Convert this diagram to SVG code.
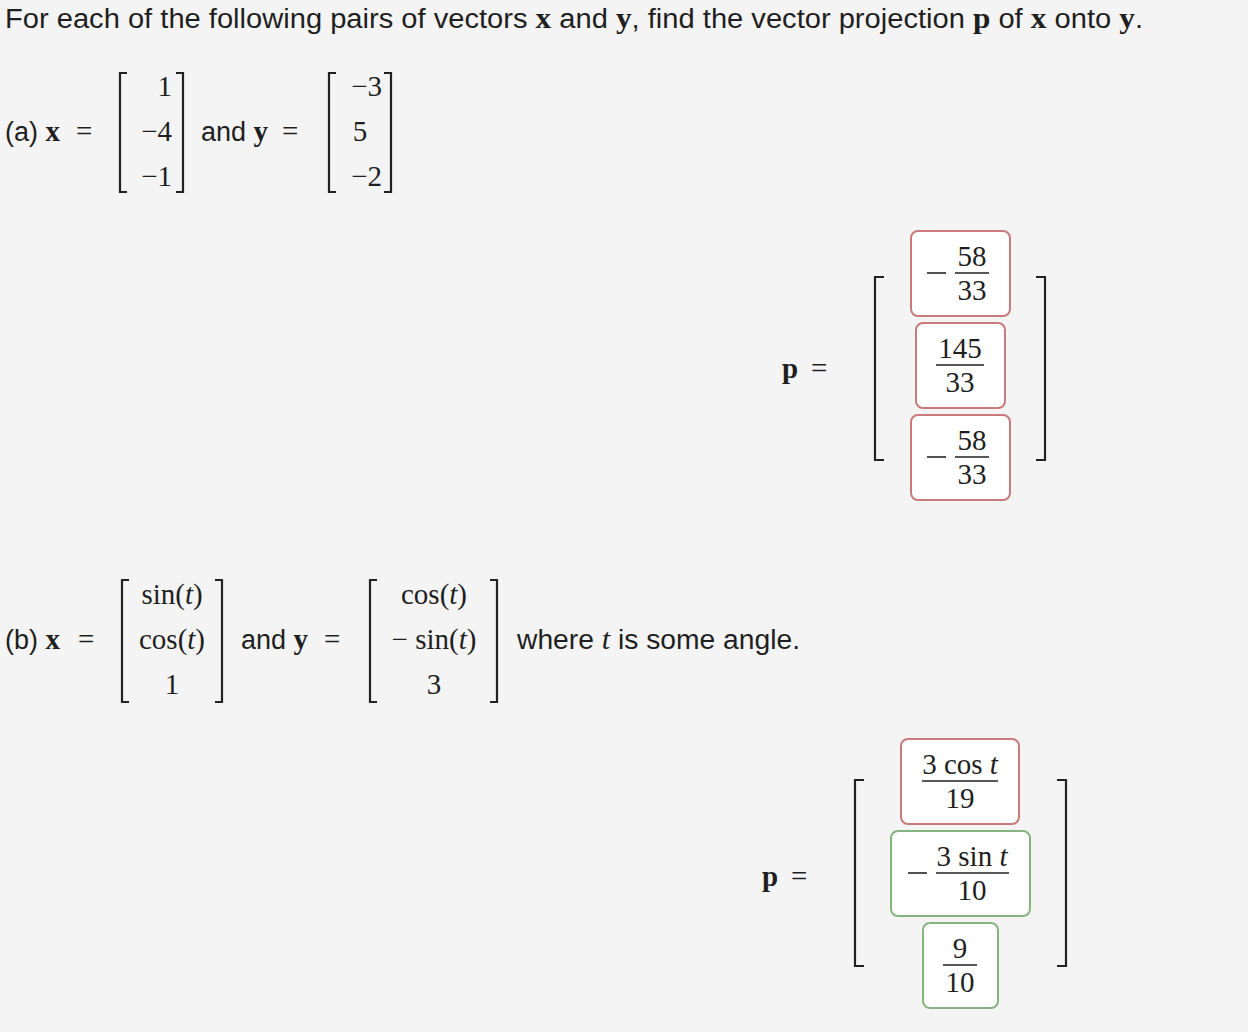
<svg xmlns="http://www.w3.org/2000/svg" width="1248" height="1032" viewBox="0 0 1248 1032">
<style>
.s{font-family:"Liberation Sans",Arial,sans-serif;font-size:27px;fill:#1f1f1f}
.m{font-family:"Liberation Serif","Times New Roman",serif;font-size:29px;fill:#1f1f1f}
.b{font-weight:bold}
.i{font-style:italic}
.br{fill:none;stroke:#222;stroke-width:2.2}
.fl{stroke:#222;stroke-width:1.6}
.red{fill:#fff;stroke:#c97a7a;stroke-width:2}
.grn{fill:#fff;stroke:#86b47e;stroke-width:2}
</style>
<rect width="1248" height="1032" fill="#f4f4f4"/>
<text class="s" x="5" y="28" textLength="1138" lengthAdjust="spacingAndGlyphs">For each of the following pairs of vectors <tspan class="m b">x</tspan> and <tspan class="m b">y</tspan>, find the vector projection <tspan class="m b">p</tspan> of <tspan class="m b">x</tspan> onto <tspan class="m b">y</tspan>.</text>

<g id="part-a">
<text class="s" x="5" y="141">(a) <tspan class="m b">x</tspan></text>
<text class="m" x="76" y="141">=</text>
<path class="br" d="M127,73 H120 V192 H127 M176,73 H183 V192 H176"/>
<text class="m" text-anchor="end" x="172" y="96">1</text>
<text class="m" text-anchor="end" x="172" y="141">−4</text>
<text class="m" text-anchor="end" x="172" y="186">−1</text>
<text class="s" x="201" y="141">and <tspan class="m b">y</tspan></text>
<text class="m" x="282" y="141">=</text>
<path class="br" d="M336,73 H329 V192 H336 M384,73 H391 V192 H384"/>
<text class="m" text-anchor="end" x="382" y="96">−3</text>
<text class="m" text-anchor="middle" x="360" y="141">5</text>
<text class="m" text-anchor="end" x="382" y="186">−2</text>
</g>

<g id="answer-a">
<text class="m" x="782" y="378"><tspan class="b">p</tspan></text>
<text class="m" x="811" y="378">=</text>
<path class="br" d="M884,277 H875 V460 H884 M1036,277 H1045 V460 H1036"/>
<rect class="red" x="911" y="231" width="99" height="85" rx="7"/>
<line class="fl" x1="927" y1="273" x2="946" y2="273"/>
<text class="m" text-anchor="middle" x="972" y="266">58</text>
<line class="fl" x1="955" y1="273" x2="989" y2="273"/>
<text class="m" text-anchor="middle" x="972" y="300">33</text>
<rect class="red" x="916" y="323" width="89" height="85" rx="7"/>
<text class="m" text-anchor="middle" x="960" y="358">145</text>
<line class="fl" x1="936" y1="365" x2="984" y2="365"/>
<text class="m" text-anchor="middle" x="960" y="392">33</text>
<rect class="red" x="911" y="415" width="99" height="85" rx="7"/>
<line class="fl" x1="927" y1="457" x2="946" y2="457"/>
<text class="m" text-anchor="middle" x="972" y="450">58</text>
<line class="fl" x1="955" y1="457" x2="989" y2="457"/>
<text class="m" text-anchor="middle" x="972" y="484">33</text>
</g>

<g id="part-b">
<text class="s" x="5" y="649">(b) <tspan class="m b">x</tspan></text>
<text class="m" x="78" y="649">=</text>
<path class="br" d="M129,580 H122 V702 H129 M215,580 H222 V702 H215"/>
<text class="m" text-anchor="middle" x="172" y="604">sin(<tspan class="i">t</tspan>)</text>
<text class="m" text-anchor="middle" x="172" y="649">cos(<tspan class="i">t</tspan>)</text>
<text class="m" text-anchor="middle" x="172" y="694">1</text>
<text class="s" x="241" y="649">and <tspan class="m b">y</tspan></text>
<text class="m" x="324" y="649">=</text>
<path class="br" d="M377,580 H370 V702 H377 M490,580 H497 V702 H490"/>
<text class="m" text-anchor="middle" x="434" y="604">cos(<tspan class="i">t</tspan>)</text>
<text class="m" text-anchor="middle" x="434" y="649">− sin(<tspan class="i">t</tspan>)</text>
<text class="m" text-anchor="middle" x="434" y="694">3</text>
<text class="s" x="517" y="649" textLength="283" lengthAdjust="spacingAndGlyphs">where <tspan class="m i">t</tspan> is some angle.</text>
</g>

<g id="answer-b">
<text class="m" x="762" y="886"><tspan class="b">p</tspan></text>
<text class="m" x="791" y="886">=</text>
<path class="br" d="M864,780 H855 V966 H864 M1057,780 H1066 V966 H1057"/>
<rect class="grn" x="891" y="831" width="139" height="85" rx="7"/>
<rect class="red" x="901" y="739" width="118" height="85" rx="7"/>
<text class="m" text-anchor="middle" x="960" y="774">3 cos <tspan class="i">t</tspan></text>
<line class="fl" x1="922" y1="781" x2="998" y2="781"/>
<text class="m" text-anchor="middle" x="960" y="808">19</text>
<line class="fl" x1="908" y1="873" x2="927" y2="873"/>
<text class="m" text-anchor="middle" x="972" y="866">3 sin <tspan class="i">t</tspan></text>
<line class="fl" x1="936" y1="873" x2="1009" y2="873"/>
<text class="m" text-anchor="middle" x="972" y="900">10</text>
<rect class="grn" x="923" y="923" width="75" height="85" rx="7"/>
<text class="m" text-anchor="middle" x="960" y="958">9</text>
<line class="fl" x1="943" y1="965" x2="977" y2="965"/>
<text class="m" text-anchor="middle" x="960" y="992">10</text>
</g>
</svg>
